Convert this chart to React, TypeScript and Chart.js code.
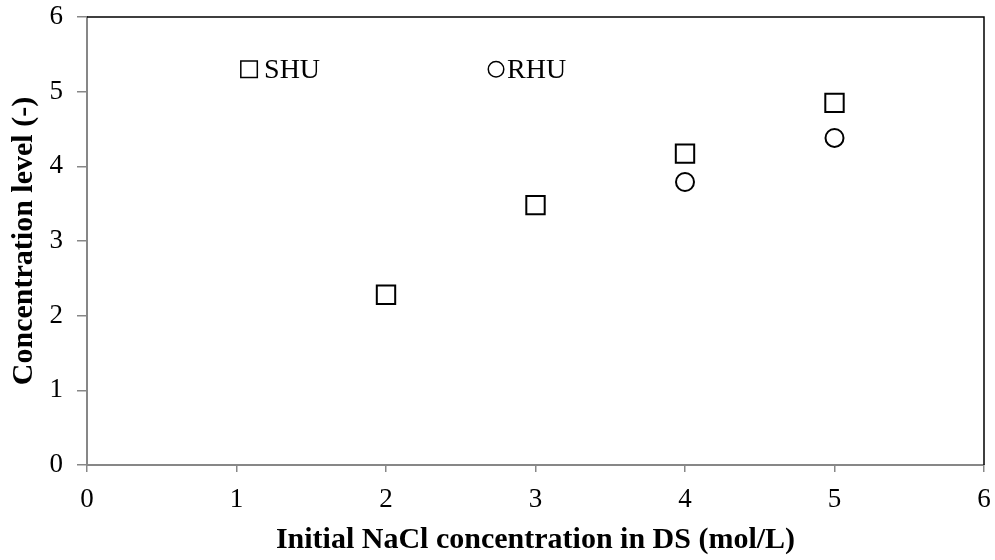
import React, { useEffect, useRef } from "react";
import { Chart, registerables } from "chart.js";

Chart.register(...registerables);

// Initial NaCl concentration in draw solution (mol/L)
const shuX = [2, 3, 4, 5];
const shuY = [2.28, 3.48, 4.17, 4.85];
const rhuX = [4, 5];
const rhuY = [3.79, 4.38];

const xTicks = [0, 1, 2, 3, 4, 5, 6];
const yTicks = [0, 1, 2, 3, 4, 5, 6];

// Legend entries placed inside the plot, anchored in data units
const legendLabels = ["SHU", "RHU"];
const legendStyles = ["rect", "circle"];
const legendAnchorX = [1.084, 2.736];
const legendAnchorY = 5.3;

const FONT = "'Liberation Serif', 'Times New Roman', serif";
const AXIS_GREY = "#878787";

const framePlugin = {
  id: "frame",
  afterDatasetsDraw(chart: any) {
    const { ctx, chartArea, scales } = chart;
    ctx.save();
    // top and right frame lines
    ctx.strokeStyle = "#000";
    ctx.lineWidth = 1.5;
    ctx.beginPath();
    ctx.moveTo(chartArea.left, chartArea.top);
    ctx.lineTo(chartArea.right, chartArea.top);
    ctx.lineTo(chartArea.right, chartArea.bottom);
    ctx.stroke();

    // in-plot legend
    ctx.font = `28px ${FONT}`;
    ctx.textBaseline = "middle";
    ctx.textAlign = "left";
    ctx.fillStyle = "#000";
    legendLabels.forEach((label, i) => {
      const cx = scales.x.getPixelForValue(legendAnchorX[i]);
      const cy = scales.y.getPixelForValue(legendAnchorY);
      ctx.lineWidth = 1.5;
      ctx.strokeStyle = "#000";
      ctx.beginPath();
      let textX;
      if (legendStyles[i] === "rect") {
        ctx.rect(cx - 8.25, cy - 8.25, 16.5, 16.5);
        textX = cx + 15;
      } else {
        ctx.arc(cx, cy, 7.75, 0, Math.PI * 2);
        textX = cx + 11;
      }
      ctx.stroke();
      ctx.fillText(label, textX, cy + 1);
    });
    ctx.restore();
  },
};

export default function App() {
  const ref = useRef<HTMLCanvasElement | null>(null);

  useEffect(() => {
    document.body.style.margin = "0";
    const canvas = ref.current;
    if (!canvas) return;
    const chart = new Chart(canvas, {
      type: "scatter",
      data: {
        datasets: [
          {
            label: "SHU",
            data: shuX.map((x, i) => ({ x, y: shuY[i] })),
            pointStyle: "rect",
            pointRadius: 13,
            pointBorderWidth: 2,
            pointBackgroundColor: "rgba(255,255,255,0)",
            pointBorderColor: "#000",
          },
          {
            label: "RHU",
            data: rhuX.map((x, i) => ({ x, y: rhuY[i] })),
            pointStyle: "circle",
            pointRadius: 9,
            pointBorderWidth: 2,
            pointBackgroundColor: "rgba(255,255,255,0)",
            pointBorderColor: "#000",
          },
        ],
      },
      options: {
        animation: false,
        responsive: false,
        layout: {
          autoPadding: false,
          padding: { left: 0, right: 11, top: 17, bottom: 0 },
        },
        plugins: {
          legend: { display: false },
          tooltip: { enabled: false },
        },
        scales: {
          x: {
            type: "linear",
            min: 0,
            max: 6,
            afterBuildTicks: (s: any) => {
              s.ticks = xTicks.map((v) => ({ value: v }));
            },
            afterFit: (s: any) => {
              s.height = 95;
              s.paddingLeft = 0;
              s.paddingRight = 0;
            },
            ticks: {
              color: "#000",
              font: { family: FONT, size: 27 },
              padding: 12,
              maxRotation: 0,
            },
            grid: {
              display: true,
              drawOnChartArea: false,
              drawTicks: true,
              tickLength: 7,
              color: AXIS_GREY,
              lineWidth: 1.5,
            },
            border: { display: true, color: AXIS_GREY, width: 2 },
            title: {
              display: true,
              text: "Initial NaCl concentration in DS (mol/L)",
              color: "#000",
              font: { family: FONT, size: 30, weight: "bold" },
              padding: { top: 0, bottom: 2 },
            },
          },
          y: {
            type: "linear",
            min: 0,
            max: 6,
            afterBuildTicks: (s: any) => {
              s.ticks = yTicks.map((v) => ({ value: v }));
            },
            afterFit: (s: any) => {
              s.width = 87;
              s.paddingTop = 0;
              s.paddingBottom = 0;
            },
            ticks: {
              color: "#000",
              font: { family: FONT, size: 27 },
              padding: 14,
            },
            grid: {
              display: true,
              drawOnChartArea: false,
              drawTicks: true,
              tickLength: 10,
              color: AXIS_GREY,
              lineWidth: 1.5,
            },
            border: { display: true, color: AXIS_GREY, width: 2 },
            title: {
              display: true,
              text: "Concentration level (-)",
              color: "#000",
              font: { family: FONT, size: 30, weight: "bold" },
              padding: { top: 6, bottom: 0 },
            },
          },
        },
      },
      plugins: [framePlugin],
    } as any);
    return () => chart.destroy();
  }, []);

  return (
    <div style={{ position: "absolute", left: 0, top: 0, width: 995, height: 560 }}>
      <canvas ref={ref} width={995} height={560} style={{ display: "block" }} />
    </div>
  );
}
